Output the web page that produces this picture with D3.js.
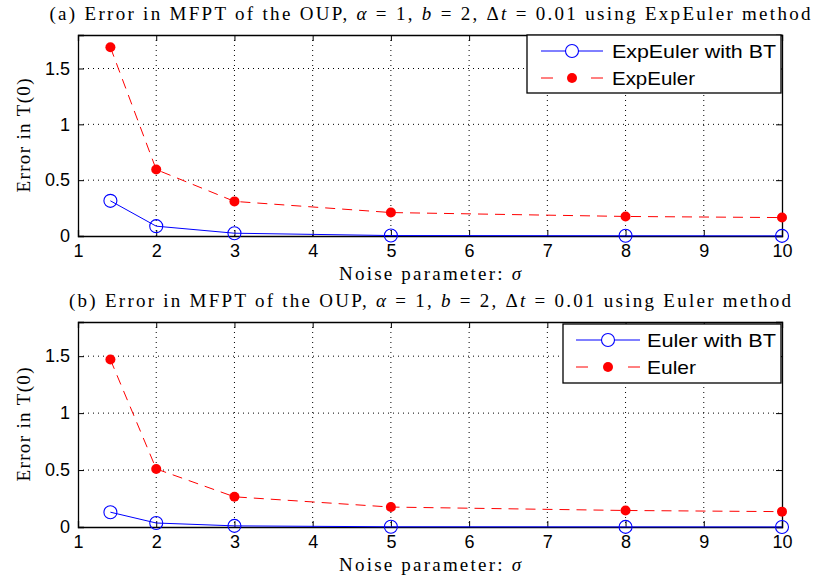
<!DOCTYPE html>
<html><head><meta charset="utf-8">
<script src="https://cdn.jsdelivr.net/npm/d3@7"></script>
<style>body{margin:0;background:#fff}</style>
</head><body>
<svg id="c" width="813" height="580"></svg>
<script>
const sigma = [Math.SQRT2, 2, 3, 5, 8, 10];
const expEulerBT = [0.315, 0.088, 0.025, 0.004, 0.002, 0.001];
const expEuler   = [1.69, 0.595, 0.31, 0.21, 0.175, 0.165];
const eulerBT    = [0.13, 0.035, 0.01, 0.002, 0.001, 0.0005];
const euler      = [1.47, 0.51, 0.265, 0.175, 0.145, 0.135];
const xTicks = [1,2,3,4,5,6,7,8,9,10];
const yTicks = [0,0.5,1,1.5];
const yTickLabels = ["0","0.5","1","1.5"];

const panels = [
  {title:"(a) Error in MFPT of the OUP, ", method:"ExpEuler", top:35, bottom:236, titleW:761,
   bt:expEulerBT, raw:expEuler, names:["ExpEuler with BT","ExpEuler"], nameW:[164,83],
   leg:{x0:527,x1:781,y0:35,y1:93,sx0:541,sx1:603,tx:612}},
  {title:"(b) Error in MFPT of the OUP, ", method:"Euler", top:322, bottom:527, titleW:722,
   bt:eulerBT, raw:euler, names:["Euler with BT","Euler"], nameW:[129,49],
   leg:{x0:563,x1:781,y0:324,y1:383,sx0:576,sx1:640,tx:647}}
];

const svg = d3.select("#c");
const L = 78, R = 782;
const x = d3.scaleLinear().domain([1,10]).range([L,R]);
const serif = "'Liberation Serif','Times New Roman',serif";
const sans = "'Liberation Sans',Arial,Helvetica,sans-serif";

panels.forEach(p=>{
  const y = d3.scaleLinear().domain([0,1.8]).range([p.bottom,p.top]);
  const g = svg.append("g");
  // grid
  g.selectAll(".gx").data(xTicks.slice(1,-1)).join("line")
    .attr("x1",d=>x(d)).attr("x2",d=>x(d)).attr("y1",p.top).attr("y2",p.bottom)
    .attr("stroke","#000").attr("stroke-width",1).attr("stroke-dasharray","1,4");
  g.selectAll(".gy").data(yTicks.slice(1)).join("line")
    .attr("x1",L).attr("x2",R).attr("y1",d=>y(d)).attr("y2",d=>y(d))
    .attr("stroke","#000").attr("stroke-width",1).attr("stroke-dasharray","1,4");
  // axes
  const xa = g.append("g").attr("transform",`translate(0,${p.bottom})`)
    .call(d3.axisBottom(x).tickValues(xTicks).tickSize(-6).tickPadding(8).tickFormat(d3.format("d")));
  const xa2 = g.append("g").attr("transform",`translate(0,${p.top})`)
    .call(d3.axisTop(x).tickValues(xTicks).tickSize(-6).tickFormat(""));
  const ya = g.append("g").attr("transform",`translate(${L},0)`)
    .call(d3.axisLeft(y).tickValues(yTicks).tickSize(-6).tickPadding(8).tickFormat((d,i)=>yTickLabels[i]));
  const ya2 = g.append("g").attr("transform",`translate(${R},0)`)
    .call(d3.axisRight(y).tickValues(yTicks).tickSize(-6).tickFormat(""));
  [xa,xa2,ya,ya2].forEach(a=>{
    a.select(".domain").attr("stroke","#000").attr("stroke-width",1.3);
    a.selectAll("text").attr("font-family",sans).attr("font-size",18).attr("fill","#000");
  });
  // lines
  const ln = d3.line().x((d,i)=>x(sigma[i])).y(d=>y(d));
  g.append("path").datum(p.raw).attr("d",ln).attr("fill","none")
    .attr("stroke","#ff0000").attr("stroke-width",1).attr("stroke-dasharray","10,7");
  g.append("path").datum(p.bt).attr("d",ln).attr("fill","none")
    .attr("stroke","#0000ff").attr("stroke-width",1);
  g.selectAll(".r").data(p.raw).join("circle")
    .attr("cx",(d,i)=>x(sigma[i])).attr("cy",d=>y(d)).attr("r",5).attr("fill","#ff0000");
  g.selectAll(".b").data(p.bt).join("circle")
    .attr("cx",(d,i)=>x(sigma[i])).attr("cy",d=>y(d)).attr("r",6.5)
    .attr("fill","none").attr("stroke","#0000ff").attr("stroke-width",1.1);
  // title
  const t = g.append("text").attr("x",(L+R)/2).attr("y",p.top-15).attr("text-anchor","middle")
    .attr("font-family",serif).attr("font-size",19).attr("fill","#000")
    .attr("textLength",p.titleW).attr("lengthAdjust","spacing");
  t.append("tspan").text(p.title);
  t.append("tspan").attr("font-style","italic").text("α");
  t.append("tspan").text(" = 1, ");
  t.append("tspan").attr("font-style","italic").text("b");
  t.append("tspan").text(" = 2, Δ");
  t.append("tspan").attr("font-style","italic").text("t");
  t.append("tspan").text(" = 0.01 using " + p.method + " method");
  // axis labels
  const xl = g.append("text").attr("x",(L+R)/2).attr("y",p.bottom+44).attr("text-anchor","middle")
    .attr("font-family",serif).attr("font-size",19).attr("fill","#000")
    .attr("textLength",182).attr("lengthAdjust","spacing");
  xl.append("tspan").text("Noise parameter:  ");
  xl.append("tspan").attr("font-style","italic").text("σ");
  g.append("text").attr("transform",`translate(30,${(p.top+p.bottom)/2}) rotate(-90)`)
    .attr("text-anchor","middle").attr("font-family",serif).attr("font-size",19).attr("fill","#000")
    .attr("textLength",114).attr("lengthAdjust","spacing")
    .text("Error in T(0)");
  // legend
  const lg = p.leg;
  g.append("rect").attr("x",lg.x0).attr("y",lg.y0).attr("width",lg.x1-lg.x0).attr("height",lg.y1-lg.y0)
    .attr("fill","#fff").attr("stroke","#000").attr("stroke-width",1.3);
  const r1 = lg.y0+16, r2 = lg.y0+43;
  const mx = (lg.sx0+lg.sx1)/2, len = lg.sx1-lg.sx0;
  g.append("line").attr("x1",lg.sx0).attr("x2",lg.sx1).attr("y1",r1).attr("y2",r1).attr("stroke","#0000ff");
  g.append("circle").attr("cx",mx).attr("cy",r1).attr("r",6.5).attr("fill","#fff").attr("stroke","#0000ff").attr("stroke-width",1.1);
  g.append("line").attr("x1",lg.sx0).attr("x2",lg.sx1).attr("y1",r2).attr("y2",r2).attr("stroke","#ff0000")
    .attr("stroke-dasharray",`12,${len-24},12,100`);
  g.append("circle").attr("cx",mx).attr("cy",r2).attr("r",5).attr("fill","#ff0000");
  [r1,r2].forEach((ry,i)=>{
    g.append("text").attr("x",lg.tx).attr("y",ry+6.5).attr("font-family",sans).attr("font-size",18.5)
      .attr("fill","#000").attr("textLength",p.nameW[i]).attr("lengthAdjust","spacingAndGlyphs")
      .text(p.names[i]);
  });
});
</script>
</body></html>
